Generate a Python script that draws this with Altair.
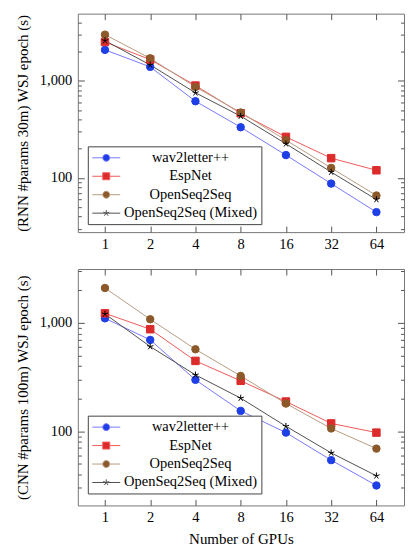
import altair as alt
import pandas as pd

FONT = "Liberation Serif"

gpus = [1, 2, 4, 8, 16, 32, 64]
series = ["wav2letter++", "EspNet", "OpenSeq2Seq", "OpenSeq2Seq (Mixed)"]

rnn_wav2letter = [2085, 1393, 617, 333, 172, 87.5, 44.5]
rnn_espnet = [2513, 1656, 895, 464, 265, 160, 120]
rnn_openseq = [2993, 1706, 866, 472, 245, 127, 66]
rnn_mixed = [2594, 1459, 754, 433, 225, 115, 60]

cnn_wav2letter = [1104, 697, 298, 154, 97, 54, 31.5]
cnn_espnet = [1228, 875, 446, 292, 188, 118, 97]
cnn_openseq = [2104, 1081, 571, 324, 180, 106, 69]
cnn_mixed = [1211, 605, 331, 202, 111, 63, 38.7]

y_labels = [100, 1000]
rnn_y_ticks = [30, 40, 50, 60, 70, 80, 90, 100, 200, 300, 400, 500, 600, 700, 800, 900,
               1000, 2000, 3000, 4000]
cnn_y_ticks = [30, 40, 50, 60, 70, 80, 90, 100, 200, 300, 400, 500, 600, 700, 800, 900,
               1000, 2000, 3000]

line_colors = ["#7878ff", "#f05a5a", "#b89c82", "#505050"]
marker_colors = ["#1f3fe6", "#dc2b2b", "#8c5a2a", "#000000"]

STAR = ("M0,0L0,-0.9M0,0L0.856,-0.278M0,0L0.529,0.728M0,0L-0.529,0.728"
        "M0,0L-0.856,-0.278")
marker_shapes = ["circle", "square", "circle", STAR]

SEG = "M-1,0L0.5,0M1.5,0L3,0"
legend_shapes = [
    SEG + "M0.5,0A0.5,0.5,0,1,0,1.5,0A0.5,0.5,0,1,0,0.5,0Z",
    SEG + "M0.5,-0.5L1.5,-0.5L1.5,0.5L0.5,0.5Z",
    SEG + "M0.5,0A0.5,0.5,0,1,0,1.5,0A0.5,0.5,0,1,0,0.5,0Z",
    "M-1,0L3,0M1,0L1,-0.45M1,0L1.428,-0.139M1,0L1.265,0.364M1,0L0.735,0.364"
    "M1,0L0.572,-0.139",
]

W = 327
X_DOMAIN = [2 ** -0.6, 2 ** 6.61]


def panel(vals, y_title, x_title, y_domain, y_ticks, height, legend_y):
    rows = []
    for name, v in zip(series, vals):
        for g, t in zip(gpus, v):
            rows.append({"gpus": g, "time": t, "series": name})
    df = pd.DataFrame(rows)
    xs = alt.Scale(type="log", base=2, domain=X_DOMAIN, nice=False)
    ys = alt.Scale(type="log", domain=y_domain, nice=False)
    base = alt.Chart(df)

    major = {"condition": {"test": "indexof([100, 1000], datum.value) >= 0", "value": 6.5},
             "value": 3.5}

    ax_a = alt.Axis(orient="bottom", values=gpus, format="d", ticks=False, domain=False,
                    grid=False, labelPadding=5, title=x_title, titlePadding=8)
    ax_d = alt.Axis(orient="left", values=y_labels, format=",", ticks=False, domain=False,
                    grid=False, labelPadding=6, title=y_title, titlePadding=9)
    ax_b = alt.Axis(orient="top", offset=-height, values=gpus, labels=False, domain=False,
                    grid=False, tickSize=6, title=None)
    ax_c = alt.Axis(orient="bottom", offset=-height, values=gpus, labels=False,
                    domain=False, grid=False, tickSize=6, title=None)
    ax_e = alt.Axis(orient="right", offset=-W, values=y_ticks, labels=False, domain=False,
                    grid=False, tickSize=major, title=None)
    ax_f = alt.Axis(orient="left", offset=-W, values=y_ticks, labels=False, domain=False,
                    grid=False, tickSize=major, title=None)

    lines = base.mark_line(strokeWidth=1, clip=True).encode(
        x=alt.X("gpus:Q", scale=xs, axis=ax_a),
        y=alt.Y("time:Q", scale=ys, axis=ax_d),
        color=alt.Color("series:N", scale=alt.Scale(domain=series, range=line_colors),
                        legend=None),
    )
    points = base.mark_point(filled=True, opacity=1, size=56, strokeWidth=1).encode(
        x=alt.X("gpus:Q", scale=xs, axis=ax_b),
        y=alt.Y("time:Q", scale=ys, axis=ax_e),
        fill=alt.Fill("series:N", scale=alt.Scale(domain=series, range=marker_colors),
                      legend=None),
        stroke=alt.Stroke("series:N", scale=alt.Scale(domain=series, range=marker_colors),
                          legend=None),
        shape=alt.Shape("series:N", scale=alt.Scale(domain=series, range=marker_shapes),
                        legend=None),
    )

    def leg():
        return alt.Legend(orient="none", legendX=10, legendY=legend_y, title=None,
                          symbolSize=196, symbolStrokeWidth=1, labelFont=FONT,
                          labelFontSize=14.5, labelColor="black", labelAlign="center",
                          labelOffset=84, rowPadding=3.5, padding=4, strokeColor="#444",
                          fillColor="white", cornerRadius=0)

    legend_layer = base.transform_filter("false").mark_point(
        filled=True, opacity=1, strokeWidth=1).encode(
        x=alt.X("gpus:Q", scale=xs, axis=ax_c),
        y=alt.Y("time:Q", scale=ys, axis=ax_f),
        fill=alt.Fill("series:N", scale=alt.Scale(domain=series, range=marker_colors),
                      legend=leg()),
        stroke=alt.Stroke("series:N", scale=alt.Scale(domain=series, range=line_colors),
                          legend=leg()),
        shape=alt.Shape("series:N", scale=alt.Scale(domain=series, range=legend_shapes),
                        legend=leg()),
    )

    return alt.layer(lines, points, legend_layer).resolve_scale(
        fill="independent", stroke="independent", shape="independent"
    ).resolve_axis(x="independent", y="independent").properties(width=W, height=height)


top = panel([rnn_wav2letter, rnn_espnet, rnn_openseq, rnn_mixed],
            "(RNN #params 30m) WSJ epoch (s)", None, [27.7, 4920], rnn_y_ticks, 219, 133)
bottom = panel([cnn_wav2letter, cnn_espnet, cnn_openseq, cnn_mixed],
               "(CNN #params 100m) WSJ epoch (s)", "Number of GPUs", [20.6, 3150],
               cnn_y_ticks, 237, 147)

chart = alt.vconcat(top, bottom, spacing=17).properties(
    padding={"left": 6, "top": 4, "right": 2, "bottom": 2}
).configure_view(stroke="#777", strokeWidth=1).configure_axis(
    labelFont=FONT, titleFont=FONT, labelFontSize=14.5, titleFontSize=15,
    labelColor="black", titleColor="black", titleFontWeight="normal",
    tickColor="#555", tickWidth=1
)

chart.save("out.html", embed_options={"renderer": "svg", "actions": False})
